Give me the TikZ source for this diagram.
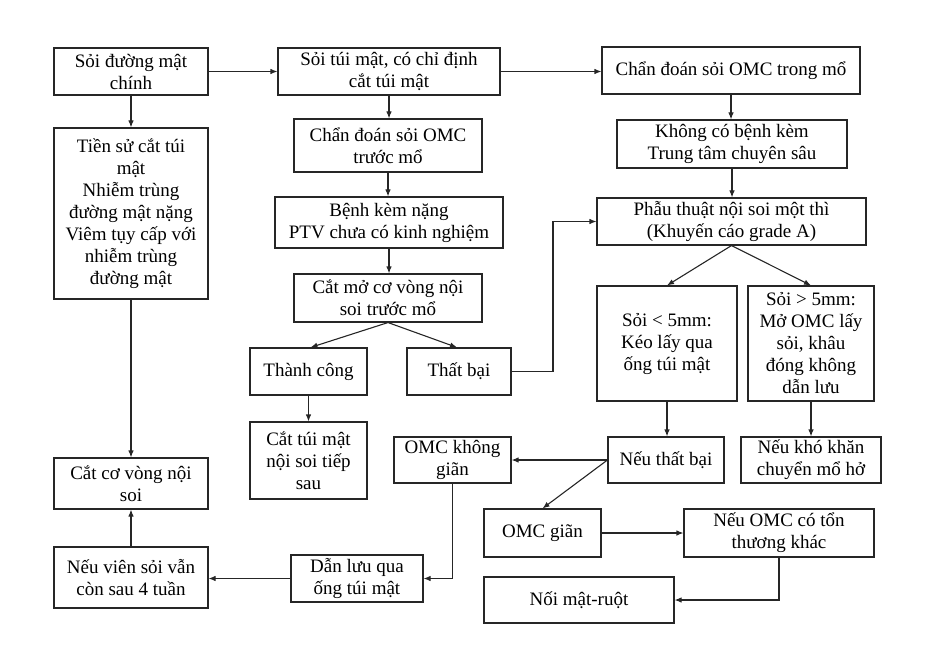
\documentclass[tikz,border=0pt]{standalone}
\usepackage{fontspec}
\setmainfont{Liberation Serif}
\usetikzlibrary{arrows.meta}
\begin{document}
\begin{tikzpicture}[x=1pt,y=-1pt,
  bx/.style={draw=black!85,line width=1.1pt,inner sep=0pt,align=center,
    font=\fontsize{19}{22}\selectfont},
  ar/.style={draw=black!85,line width=1.1pt,-{Latex[length=7pt,width=5.5pt]}},
  ln/.style={line width=1.1pt}]
\useasboundingbox (0,0) rectangle (941,660);
\newcommand\bxat[7]{\node[bx,minimum width=#4,minimum height=#5] (#1) at (#2,#3) {#6};}
% boxes
\bxat{A}{131}{71.5}{154}{47}{Sỏi đường mật\\chính}{}
\bxat{B}{131}{213.5}{154}{171}{Tiền sử cắt túi\\mật\\Nhiễm trùng\\đường mật nặng\\Viêm tụy cấp với\\nhiễm trùng\\đường mật}{}
\bxat{C}{389}{71.5}{222}{47}{Sỏi túi mật, có chỉ định\\cắt túi mật}{}
\bxat{D}{388}{145.5}{188}{53}{Chẩn đoán sỏi OMC\\trước mổ}{}
\bxat{E}{389}{222.5}{228}{51}{Bệnh kèm nặng\\PTV chưa có kinh nghiệm}{}
\bxat{F}{388}{298}{188}{48}{Cắt mở cơ vòng nội\\soi trước mổ}{}
\bxat{G}{731}{70.5}{258}{47}{Chẩn đoán sỏi OMC trong mổ}{}
\bxat{H}{732}{144}{230}{48}{Không có bệnh kèm\\Trung tâm chuyên sâu}{}
\bxat{I}{731.5}{221.5}{269}{47}{Phẫu thuật nội soi một thì\\(Khuyến cáo grade A)}{}
\bxat{K}{667}{343.5}{140}{115}{Sỏi < 5mm:\\Kéo lấy qua\\ống túi mật}{}
\bxat{J}{811}{343.5}{126}{115}{Sỏi > 5mm:\\Mở OMC lấy\\sỏi, khâu\\đóng không\\dẫn lưu}{}
\bxat{L}{666}{460}{116}{46}{Nếu thất bại}{}
\bxat{M}{811}{460}{140}{46}{Nếu khó khăn\\chuyển mổ hở}{}
\bxat{TC}{308.5}{371.5}{117}{47}{Thành công}{}
\bxat{TB}{459}{371.5}{104}{47}{Thất bại}{}
\bxat{CT}{308.5}{460.5}{117}{77}{Cắt túi mật\\nội soi tiếp\\sau}{}
\bxat{CCV}{131}{483.5}{154}{51}{Cắt cơ vòng nội\\soi}{}
\bxat{NV}{131}{577.5}{154}{61}{Nếu viên sỏi vẫn\\còn sau 4 tuần}{}
\bxat{OKG}{452.5}{460}{117}{46}{OMC không\\giãn}{}
\bxat{DL}{357}{578.5}{132}{47}{Dẫn lưu qua\\ống túi mật}{}
\bxat{OG}{542.5}{533}{117}{48}{OMC giãn}{}
\bxat{NO}{779}{533}{190}{48}{Nếu OMC có tổn\\thương khác}{}
\bxat{NMR}{579}{600}{190}{46}{Nối mật-ruột}{}
% connectors
\draw[ar] (A.east) -- (A.east -| C.west);
\draw[ar] (C.east) -- (C.east -| G.west);
\draw[ar] (A.south) -- (B.north);
\draw[ar] (B.south) -- (CCV.north);
\draw[ar] (NV.north) -- (CCV.south);
\draw[ar] (C.south) -- (C.south |- D.north);
\draw[ar] (D.south) -- (D.south |- E.north);
\draw[ar] (E.south) -- (E.south |- F.north);
\draw[ar] (F.south) -- ([xshift=2pt]TC.north);
\draw[ar] (F.south) -- ([xshift=-2pt]TB.north);
\draw[ar] (TC.south) -- (CT.north);
\coordinate (tbr) at (553,371.5);
\draw[ar] (TB.east) -- (tbr) |- (I.west);
\draw[ar] (G.south) -- (G.south |- H.north);
\draw[ar] (H.south) -- (H.south |- I.north);
\draw[ar] (I.south) -- (K.north);
\draw[ar] (I.south) -- (J.north);
\draw[ar] (K.south) -- (K.south |- L.north);
\draw[ar] (J.south) -- (M.north);
\draw[ar] (L.west) -- (OKG.east);
\draw[ar] (L.west) -- (OG.north);
\draw[ar] (OKG.south) |- (DL.east);
\draw[ar] (DL.west) -- (DL.west -| NV.east);
\draw[ar] (OG.east) -- (NO.west);
\draw[ar] (NO.south) |- (NMR.east);
\end{tikzpicture}
\end{document}
